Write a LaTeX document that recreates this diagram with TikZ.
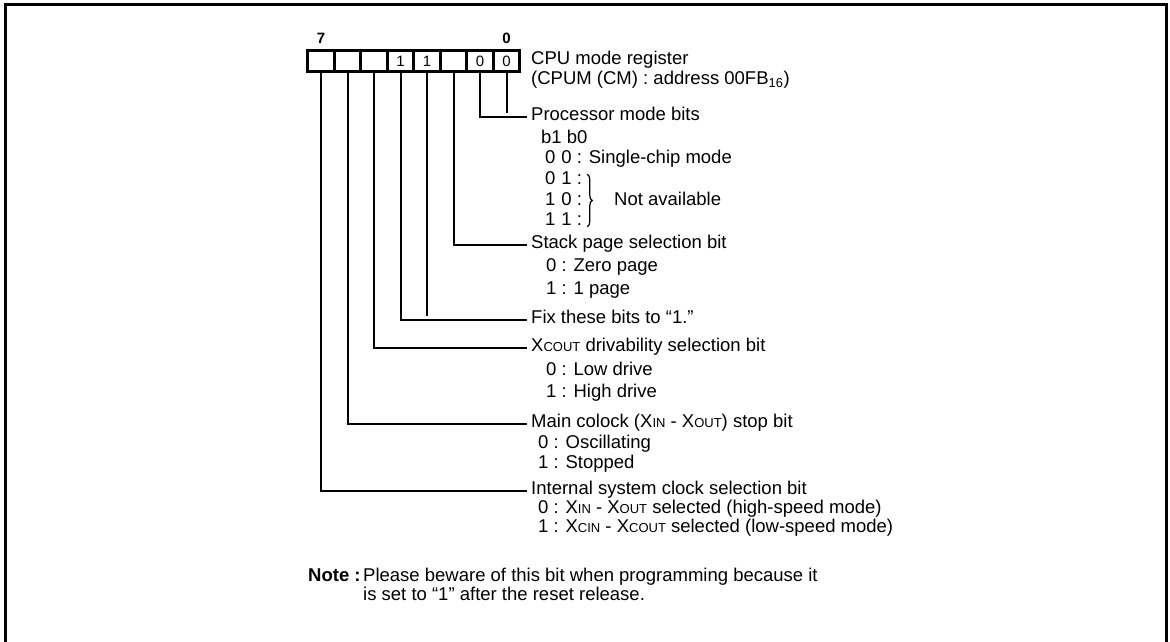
\documentclass[tikz,border=0pt]{standalone}
\usepackage{fontspec}
\setmainfont{Liberation Sans}
\usetikzlibrary{positioning, calc, decorations.pathreplacing}
\newcommand{\pinx}[1]{X{\fontsize{13}{13}\selectfont #1}}

\begin{document}
\begin{tikzpicture}[
  x=1pt, y=-1pt,
  node distance=0pt,
  font=\fontsize{18.5}{20}\selectfont,
  % Register cells
  cell/.style={draw, rectangle, line width=3pt, minimum width=26.5pt, minimum height=21.7pt, inner sep=0pt, outer sep=0pt, font=\fontsize{15}{15}\selectfont},
  bitno/.style={inner sep=0pt, font=\bfseries\fontsize{15}{15}\selectfont},
  % Text labels
  lblhead/.style={anchor=west, inner sep=0pt, text height=1.5ex, text depth=.25ex},
  lblitem/.style={lblhead},
  % Connectors
  wire/.style={draw, line width=2pt, shorten >=4pt}
]
  \useasboundingbox (0,0) rectangle (1170,642);
  \draw[line width=3pt] (5,642) -- (5,5) -- (1166,5) -- (1166,642);

  % ==========================================
  % REGISTER (b7 ... b0)
  % ==========================================
  \node[cell] (b7) at (321,61) {};
  \node[cell, right=of b7] (b6) {};
  \node[cell, right=of b6] (b5) {};
  \node[cell, right=of b5] (b4) {1};
  \node[cell, right=of b4] (b3) {1};
  \node[cell, right=of b3] (b2) {};
  \node[cell, right=of b2] (b1) {0};
  \node[cell, right=of b1] (b0) {0};

  \node[bitno] (n7) at (321,38) {7};
  \node[bitno] (n0) at (506.5,38) {0};

  \node[lblhead] (reg) at (531,61) {CPU mode register};
  \node[lblhead] (regaddr) at (531,81) {(CPUM (CM) : address 00FB\textsubscript{16})};

  % ==========================================
  % BIT DESCRIPTIONS
  % ==========================================
  % Processor mode bits
  \node[lblhead] (pm) at (531,117) {Processor mode bits};
  \node[lblitem] (pmhd) at (541,140) {b1 b0};
  \node[lblitem] (pm00) at (545,160) {0\hspace{6pt}0 : Single-chip mode};
  \node[lblitem] (pm01) at (545,181) {0\hspace{6pt}1 :};
  \node[lblitem] (pm10) at (545,202) {1\hspace{6pt}0 :};
  \node[lblitem] (pm11) at (545,222) {1\hspace{6pt}1 :};
  \node[lblitem] (pmna) at (614,202) {Not available};
  \draw[line width=1.2pt, decorate, decoration={brace, amplitude=5pt}] (pm01.north east) ++(5,-2) coordinate (brtop) -- (brtop |- pm11.south);

  % Stack page selection bit
  \node[lblhead] (sp) at (531,245) {Stack page selection bit};
  \node[lblitem] (sp0) at (546,268) {0 : Zero page};
  \node[lblitem] (sp1) at (546,291) {1 : 1 page};

  % Fixed bits
  \node[lblhead] (fix) at (531,320) {Fix these bits to “1.”};

  % XCOUT drivability
  \node[lblhead] (xd) at (531,348) {\pinx{COUT} drivability selection bit};
  \node[lblitem] (xd0) at (546,372) {0 : Low drive};
  \node[lblitem] (xd1) at (546,394) {1 : High drive};

  % Main clock stop
  \node[lblhead] (mc) at (531,424) {Main colock (\pinx{IN} - \pinx{OUT}) stop bit};
  \node[lblitem] (mc0) at (538,445) {0 : Oscillating};
  \node[lblitem] (mc1) at (538,465) {1 : Stopped};

  % Internal system clock
  \node[lblhead] (sc) at (531,491) {Internal system clock selection bit};
  \node[lblitem] (sc0) at (538,510) {0 : \pinx{IN} - \pinx{OUT} selected (high-speed mode)};
  \node[lblitem] (sc1) at (538,529) {1 : \pinx{CIN} - \pinx{COUT} selected (low-speed mode)};

  % Connectors
  \draw[wire] (b1.south) |- (pm.west);
  \draw[wire] (b0.south) -- (b0.south |- pm.west);
  \draw[wire] (b2.south) |- (sp.west);
  \draw[wire] (b4.south) |- (fix.west);
  \draw[wire] (b3.south) -- (b3.south |- fix.west);
  \draw[wire] (b5.south) |- (xd.west);
  \draw[wire] (b6.south) |- (mc.west);
  \draw[wire] (b7.south) |- (sc.west);

  % ==========================================
  % NOTE
  % ==========================================
  \node[lblhead] (note) at (308,578) {\bfseries Note :};
  \node[lblhead] (note1) at (363,578) {Please beware of this bit when programming because it};
  \node[lblhead] (note2) at (363,597) {is set to “1” after the reset release.};

\end{tikzpicture}
\end{document}
